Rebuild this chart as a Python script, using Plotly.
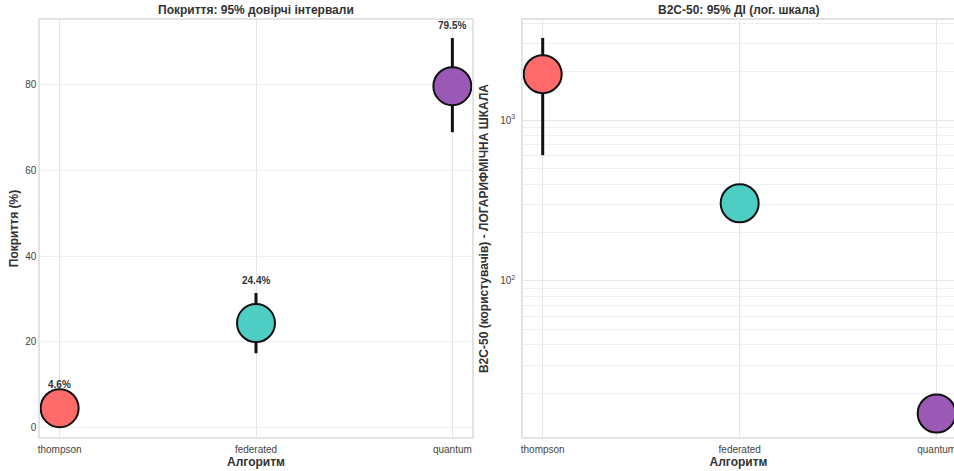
import plotly.graph_objects as go
from plotly.subplots import make_subplots

algorithms = ["thompson", "federated", "quantum"]
colors = ["#FF6B6B", "#4ECDC4", "#9B59B6"]

coverage = [4.6, 24.4, 79.5]
coverage_lo = [2.4, 17.4, 68.8]
coverage_hi = [7.0, 31.4, 90.7]

b2c50 = [1930, 304, 15.0]
b2c50_lo = [605, 280, 13.5]
b2c50_hi = [3240, 330, 16.5]

x_idx = list(range(len(algorithms)))

fig = make_subplots(rows=1, cols=2, horizontal_spacing=0.0,
                    subplot_titles=("<b>Покриття: 95% довірчі інтервали</b>",
                                    "<b>B2C-50: 95% ДІ (лог. шкала)</b>"))

marker = dict(size=38, color=colors, line=dict(color="#111111", width=2), opacity=1)

fig.add_trace(go.Scatter(
    x=x_idx, y=coverage, mode="markers", marker=marker,
    error_y=dict(type="data", symmetric=False,
                 array=[h - v for h, v in zip(coverage_hi, coverage)],
                 arrayminus=[v - l for v, l in zip(coverage, coverage_lo)],
                 color="#111111", thickness=3, width=0),
    showlegend=False, cliponaxis=False), row=1, col=1)

fig.add_trace(go.Scatter(
    x=x_idx, y=b2c50, mode="markers", marker=marker,
    error_y=dict(type="data", symmetric=False,
                 array=[h - v for h, v in zip(b2c50_hi, b2c50)],
                 arrayminus=[v - l for v, l in zip(b2c50, b2c50_lo)],
                 color="#111111", thickness=3, width=0),
    showlegend=False, cliponaxis=False), row=1, col=2)

for i, (v, h) in enumerate(zip(coverage, coverage_hi)):
    fig.add_annotation(x=i, y=h + 3, xref="x", yref="y", text=f"<b>{v}%</b>",
                       showarrow=False, yanchor="middle",
                       font=dict(size=10, color="#333333"))

W, H = 954, 471
ml, mr, mt, mb = 40, 0, 20, 34
pw = W - ml - mr
left_end = (472 - ml) / pw
right_start = (523 - ml) / pw

font_family = "Liberation Sans, Arial, sans-serif"
frame = "#e3e3e3"

fig.update_layout(
    width=W, height=H, margin=dict(l=ml, r=mr, t=mt, b=mb, autoexpand=False),
    plot_bgcolor="white", paper_bgcolor="white",
    font=dict(family=font_family, size=10, color="#444444"),
    xaxis=dict(domain=[0, left_end]),
    xaxis2=dict(domain=[right_start, 1]),
)

common_x = dict(tickmode="array", tickvals=x_idx, ticktext=algorithms,
                showgrid=True, gridcolor="#e6e6e6", gridwidth=1,
                showline=True, linecolor=frame, linewidth=1.5, mirror=True,
                zeroline=False, ticks="", automargin=False, ticklabeloverflow="allow",
                ticklabelstandoff=2,
                tickfont=dict(size=10, color="#444444"),
                title=dict(text="<b>Алгоритм</b>", font=dict(size=12, color="#333333"), standoff=4))

fig.update_xaxes(range=[-0.1, 2.1], **common_x, row=1, col=1)
fig.update_xaxes(range=[-0.1, 2.088], **common_x, row=1, col=2)

fig.update_yaxes(range=[-2.1, 94.9], tickvals=[0, 20, 40, 60, 80],
                 showgrid=True, gridcolor="#f0f0f0", gridwidth=1,
                 showline=True, linecolor=frame, linewidth=1.5, mirror=True,
                 zeroline=False, ticks="", automargin=False,
                 tickfont=dict(size=10, color="#444444"),
                 title=dict(text="<b>Покриття (%)</b>", font=dict(size=12, color="#333333"), standoff=4),
                 row=1, col=1)

minor_vals = [m * 10 ** e for e in (1, 2, 3) for m in range(2, 10)]
fig.update_yaxes(type="log", range=[1.03, 3.622],
                 tickvals=[100, 1000], ticktext=["10<sup>2</sup>", "10<sup>3</sup>"],
                 showgrid=True, gridcolor="#e6e6e6", gridwidth=1,
                 minor=dict(tickvals=minor_vals, showgrid=True, gridcolor="#f0f0f0", gridwidth=1, ticks=""),
                 showline=True, linecolor=frame, linewidth=1.5, mirror=True,
                 zeroline=False, ticks="", automargin=False, ticklabelstandoff=4,
                 tickfont=dict(size=10, color="#444444"),
                 title=dict(text="<b>B2C-50 (користувачів) - ЛОГАРИФМІЧНА ШКАЛА</b>",
                            font=dict(size=12, color="#333333"), standoff=9),
                 row=1, col=2)

title_centers = [left_end / 2, (right_start + 1) / 2]
for ann, cx in zip(fig.layout.annotations[:2], title_centers):
    ann.font = dict(size=12, color="#333333", family=font_family)
    ann.x = cx
    ann.yshift = 1

fig.write_html("out.html", config={"displayModeBar": False},
               post_script="document.body.style.margin='0';document.body.style.overflow='hidden';")
